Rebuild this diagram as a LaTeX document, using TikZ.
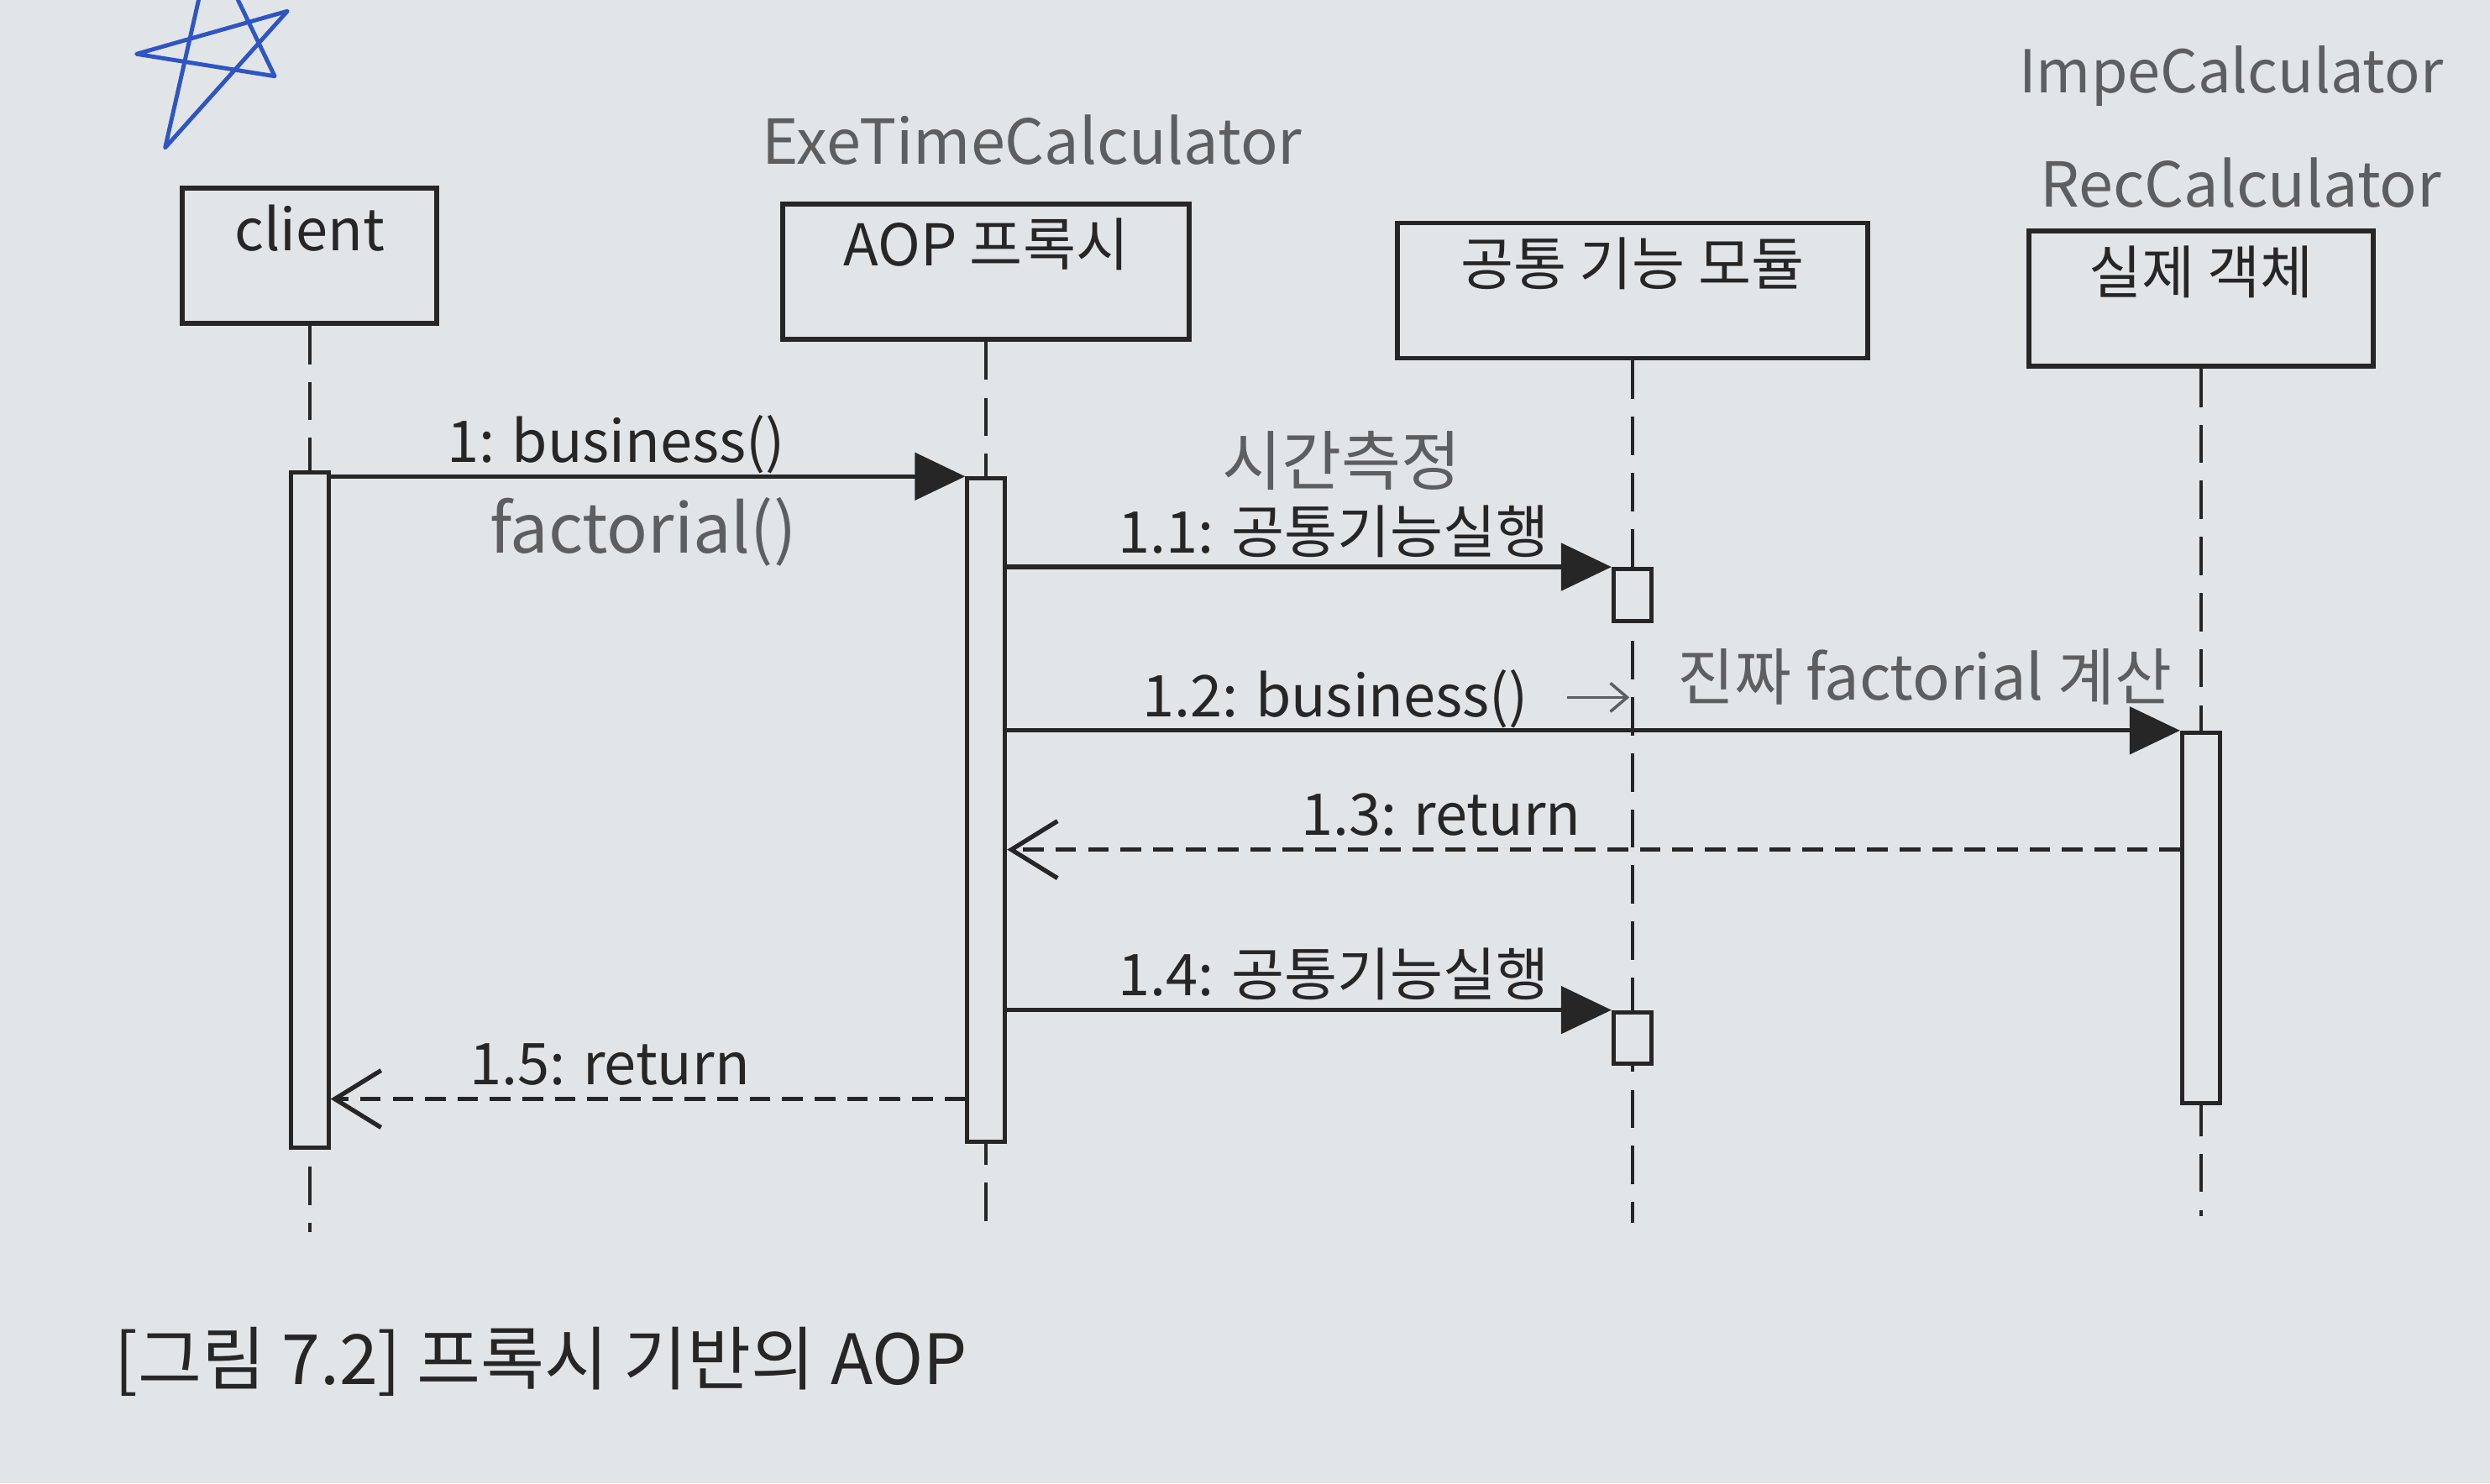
\documentclass[tikz,border=0pt]{standalone}
\usepackage{fontspec}
\setmainfont{Noto Sans CJK KR}
\usetikzlibrary{arrows.meta}
\definecolor{PageGray}{HTML}{E2E5E8}
\definecolor{InkBlack}{HTML}{262626}
\definecolor{PencilGray}{HTML}{5C5E60}
\definecolor{PenBlue}{HTML}{2F55C4}

\begin{document}
\begin{tikzpicture}[x=0.1891mm,y=-0.1891mm,font=\fontsize{19.5}{23}\selectfont,text=InkBlack]
    \tikzstyle{objbox}=[draw=InkBlack,line width=1.6pt,fill=PageGray,anchor=north,text height=0.62cm,text depth=0.75cm,inner sep=0.12cm]
    \tikzstyle{actbar}=[draw=InkBlack,line width=1.4pt,fill=PageGray,anchor=north,minimum width=0.45cm,inner sep=0pt]
    \tikzstyle{lifeline}=[draw=InkBlack,line width=1.2pt,dash pattern=on 13pt off 6pt]
    \tikzstyle{call}=[draw=InkBlack,line width=1.5pt,-{Triangle[length=6mm,width=5.6mm]}]
    \tikzstyle{reply}=[draw=InkBlack,line width=1.5pt,dash pattern=on 7pt off 4pt,-{Straight Barb[length=5.5mm,width=6.8mm]}]
    \tikzstyle{msglabel}=[above,inner sep=1pt,text depth=0.3em]
    \tikzstyle{pencil}=[text=PencilGray,font=\fontsize{21}{25}\selectfont]

    \fill[PageGray] (0,0) rectangle (1568,934);
    \useasboundingbox (0,0) rectangle (1568,934);

    \node[objbox,minimum width=3.03cm] (client) at (195,117) {client};
    \node[objbox,minimum width=4.84cm] (proxy)  at (621,127) {AOP 프록시};
    \node[objbox,minimum width=5.60cm] (common) at (1028,139) {공통 기능 모듈};
    \node[objbox,minimum width=4.10cm] (real)   at (1386,144) {실제 객체};

    \coordinate (clientEnd) at (195,776);
    \coordinate (proxyEnd)  at (621,774);
    \coordinate (commonEnd) at (1028,770);
    \coordinate (realEnd)   at (1386,766);
    \draw[lifeline] (client) -- (clientEnd);
    \draw[lifeline] (proxy) -- (proxyEnd);
    \draw[lifeline] (common) -- (commonEnd);
    \draw[lifeline] (real) -- (realEnd);

    \node[actbar,minimum height=8.04cm] (clientAct)  at (195,296) {};
    \node[actbar,minimum height=7.90cm] (proxyAct)   at (621,300) {};
    \node[actbar,minimum height=0.62cm] (commonAct1) at (1028,357) {};
    \node[actbar,minimum height=0.61cm] (commonAct2) at (1028,636) {};
    \node[actbar,minimum height=4.41cm] (realAct)    at (1386,460) {};

    \coordinate (ret13) at (0,535);
    \coordinate (ret15) at (0,692);
    \draw[call] (clientAct.east |- proxyAct.north) -- node[msglabel,pos=.45] {1: business()} (proxyAct.north west);
    \draw[call] (proxyAct.east |- commonAct1.north) -- node[msglabel,pos=.54] {1.1: 공통기능실행} (commonAct1.north west);
    \draw[call] (proxyAct.east |- realAct.north) -- node[msglabel,pos=.28] (lbl12) {1.2: business()} (realAct.north west);
    \draw[reply] (realAct.west |- ret13) -- node[msglabel,pos=.63] {1.3: return} (proxyAct.east |- ret13);
    \draw[call] (proxyAct.east |- commonAct2.north) -- node[msglabel,pos=.54] {1.4: 공통기능실행} (commonAct2.north west);
    \draw[reply] (proxyAct.west |- ret15) -- node[msglabel,pos=.56] {1.5: return} (clientAct.east |- ret15);

    \node[pencil] (exeNote) at (650,88) {ExeTimeCalculator};
    \node[pencil,font=\fontsize{20}{24}\selectfont] (impeNote) at (1405,48) {ImpeCalculator};
    \node[pencil] (recNote) at (1411,115) {RecCalculator};
    \node[pencil,font=\fontsize{22}{26}\selectfont] (timeNote) at (845,290) {시간측정};
    \node[pencil,font=\fontsize{23}{27}\selectfont] (factNote) at (405,335) {factorial()};
    \node[pencil] (realNote) at (1212,426) {진짜 factorial 계산};
    \draw[PencilGray,line width=1pt,-{Straight Barb[length=2mm,width=3.4mm]},shorten <=4mm,shorten >=4.5mm] (lbl12.east) -- (lbl12.east -| realNote.west);

    \begin{scope}
      \clip (0,0) rectangle (1568,934);
      \draw[PenBlue,line width=1.4pt,line join=round] (104,93) -- (133,-35) -- (173,48) -- (86,34) -- (181,7) -- cycle;
    \end{scope}

    \node[anchor=base west,font=\fontsize{23.5}{28}\selectfont,inner sep=0pt] (caption) at (72,872) {[그림 7.2] 프록시 기반의 AOP};
\end{tikzpicture}
\end{document}
